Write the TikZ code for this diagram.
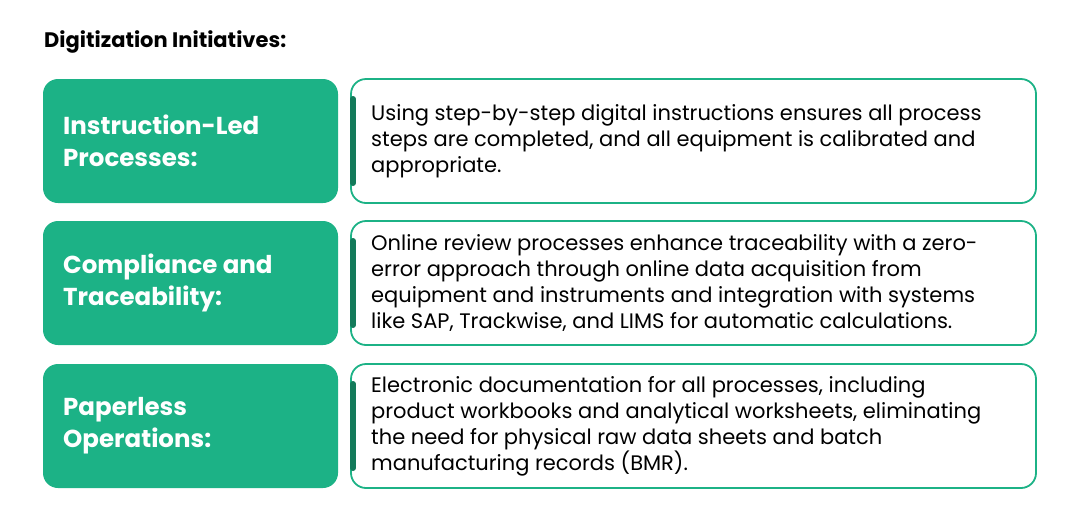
\documentclass[tikz,border=0pt]{standalone}
\usepackage{fontspec}
\setmainfont{Poppins}
\definecolor{tealgreen}{HTML}{1CB286}
\definecolor{darkgreen}{HTML}{137A5A}
\begin{document}
\begin{tikzpicture}[x=1pt,y=-1pt,
  label box/.style={fill=tealgreen, rounded corners=15pt},
  text box/.style={draw=tealgreen, line width=1.8pt, fill=white, rounded corners=15pt},
  divider/.style={draw=darkgreen, line width=6pt, line cap=round},
  label text/.style={anchor=west, text=white, font=\fontsize{24.5}{32}\selectfont\bfseries, align=left, inner sep=0pt},
  body text/.style={anchor=west, font=\fontsize{21}{26}\selectfont, align=left, inner sep=0pt}]
\useasboundingbox (0,0) rectangle (1080,523);
\node[anchor=west, inner sep=0pt, font=\fontsize{21}{24}\selectfont\bfseries] (title) at (44,42) {Digitization Initiatives:};
% rows
\fill[label box] (43,79) rectangle (338,203);
\draw[text box] (351,79) rectangle (1036,203);
\draw[divider] (353,99) -- (353,183);
\node[label text] (lab1) at (63,141) {Instruction-Led\\Processes:};
\node[body text] (txt1) at (371,141) {Using step-by-step digital instructions ensures all process\\steps are completed, and all equipment is calibrated and\\appropriate.};
\fill[label box] (43,221) rectangle (338,345);
\draw[text box] (351,221) rectangle (1036,345);
\draw[divider] (353,241) -- (353,325);
\node[label text] (lab2) at (63,283) {Compliance and\\Traceability:};
\node[body text] (txt2) at (371,283) {Online review processes enhance traceability with a zero-\\error approach through online data acquisition from\\equipment and instruments and integration with systems\\like SAP, Trackwise, and LIMS for automatic calculations.};
\fill[label box] (43,364) rectangle (338,488);
\draw[text box] (351,364) rectangle (1036,488);
\draw[divider] (353,384) -- (353,468);
\node[label text] (lab3) at (63,426) {Paperless\\Operations:};
\node[body text] (txt3) at (371,426) {Electronic documentation for all processes, including\\product workbooks and analytical worksheets, eliminating\\the need for physical raw data sheets and batch\\manufacturing records (BMR).};
\end{tikzpicture}
\end{document}
